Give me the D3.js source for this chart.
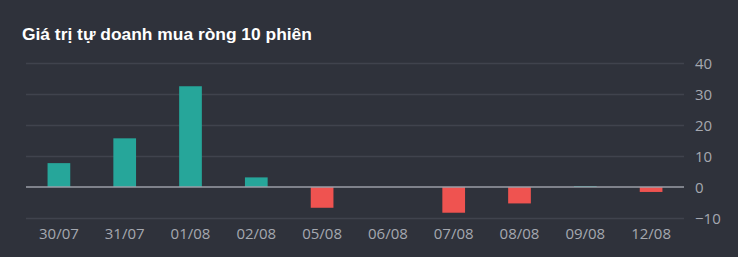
<!DOCTYPE html>
<html><head><meta charset="utf-8">
<script src="https://cdn.jsdelivr.net/npm/d3@7"></script>
<style>
html,body{margin:0;padding:0;background:#2f323b;}
svg{display:block;}
</style></head>
<body>
<svg id="chart" width="738" height="257"></svg>
<script>
const title = "Giá trị tự doanh mua ròng 10 phiên";
const categories = ["30/07","31/07","01/08","02/08","05/08","06/08","07/08","08/08","09/08","12/08"];
const values = [7.7, 15.7, 32.5, 3.1, -6.7, 0, -8.3, -5.3, 0.3, -1.6];
const yTicks = [-10, 0, 10, 20, 30, 40];

const svg = d3.select("#chart");
svg.append("rect").attr("width",738).attr("height",257).attr("fill","#2f323b");

const x = d3.scaleBand().domain(categories).range([26, 684]).paddingInner(0.655).paddingOuter(0.3275);
const y = d3.scaleLinear().domain([-10, 40]).range([218, 63]);

// grid
svg.append("g").selectAll("line").data(yTicks.filter(d=>d!==0)).join("line")
  .attr("x1",26).attr("x2",684)
  .attr("y1",d=>Math.round(y(d))+0.5).attr("y2",d=>Math.round(y(d))+0.5)
  .attr("stroke","#40434d").attr("stroke-width",1.5);

// y axis on right
const yAxis = d3.axisRight(y).tickValues(yTicks).tickSize(0).tickPadding(0).tickFormat(d3.format("d"));
const gy = svg.append("g").attr("transform","translate(695,0)").call(yAxis);
gy.select(".domain").remove();
gy.selectAll("text").attr("fill","#a5a8b0").attr("font-family","'Open Sans', sans-serif").attr("font-size","15px").attr("dy","0.35em");

// bars
svg.append("g").selectAll("rect").data(values).join("rect")
  .attr("x",(d,i)=>x(categories[i]))
  .attr("width",x.bandwidth())
  .attr("y",d=>y(Math.max(0,d)))
  .attr("height",d=>Math.abs(y(d)-y(0)))
  .attr("fill",d=>d>=0?"#26a69a":"#ef5350");

// zero line
svg.append("line").attr("x1",26).attr("x2",684).attr("y1",y(0)).attr("y2",y(0))
  .attr("stroke","#9b9ea7").attr("stroke-width",1.5);

// x axis
const xAxis = d3.axisBottom(x).tickSize(0).tickPadding(0);
const gx = svg.append("g").attr("transform","translate(0,228)").call(xAxis);
gx.select(".domain").remove();
gx.selectAll("text").attr("fill","#a5a8b0").attr("font-family","'Open Sans', sans-serif").attr("font-size","15px").attr("dy","0.71em");

// title
svg.append("text").attr("x",22).attr("y",40).text(title)
  .attr("fill","#ffffff").attr("font-family","'Liberation Sans', Arial, sans-serif")
  .attr("font-weight","bold").attr("font-size","17.4px");
</script>
</body></html>
